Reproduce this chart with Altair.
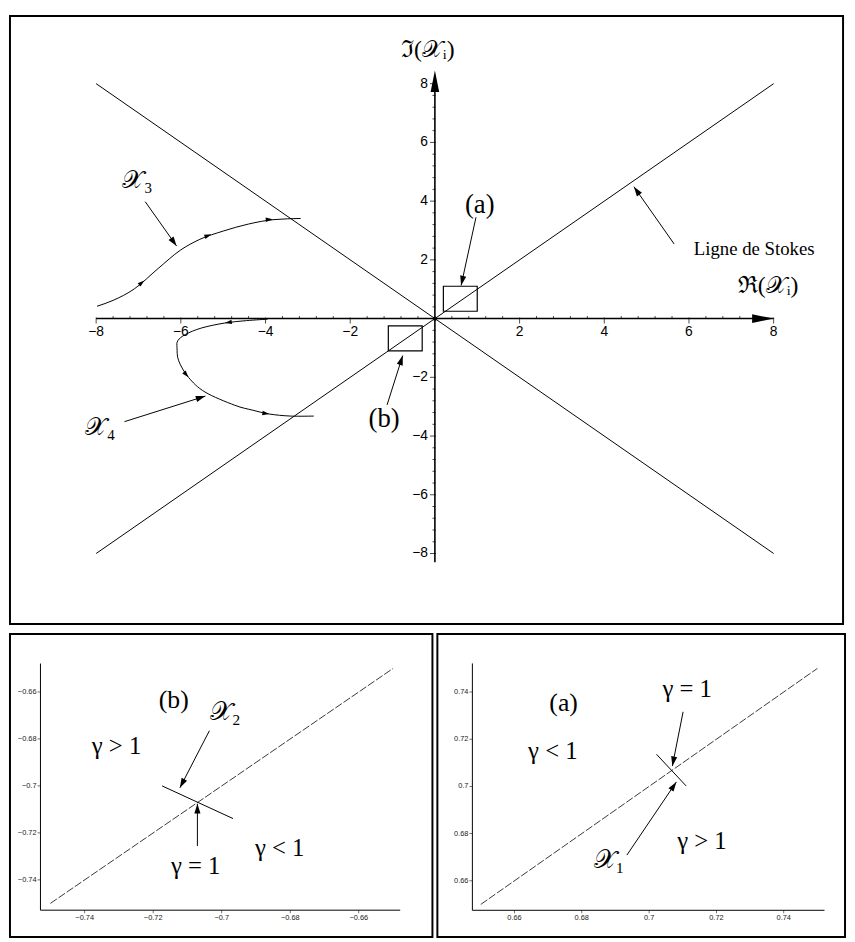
import math
import altair as alt
import pandas as pd

# ---------------- top panel values (complex plane) ----------------
stokes_from_re = [-8, -8]
stokes_from_im = [-8, 8]
stokes_to_re = [8, 8]
stokes_to_im = [8, -8]

major_vals = [-8, -6, -4, -2, 2, 4, 6, 8]
major_lbls = ["\u22128", "\u22126", "\u22124", "\u22122", "2", "4", "6", "8"]
minor_vals = [round(-8 + 0.4 * k, 1) for k in range(41) if k % 5 != 0]

x3_re = [-7.98, -7.6, -7.1, -6.54, -6.01, -5.55, -5.0, -4.4, -3.8, -3.17]
x3_im = [0.42, 0.62, 1.01, 1.70, 2.33, 2.70, 2.98, 3.22, 3.37, 3.41]
x3_arrow_re = [-6.86, -5.28, -3.83]
x3_arrow_im = [1.30, 2.87, 3.38]
x3_arrow_dir = [320, 339, 356]

x4_re = [-3.95, -4.45, -4.96, -5.51, -5.89, -6.07, -6.09, -6.05, -5.82, -5.43, -4.73, -4.3, -3.91, -3.41, -2.86]
x4_im = [-0.02, -0.07, -0.15, -0.32, -0.54, -0.75, -0.99, -1.44, -2.0, -2.50, -2.95, -3.12, -3.25, -3.32, -3.32]
x4_arrow_re = [-4.96, -5.82, -3.91]
x4_arrow_im = [-0.15, -2.0, -3.25]
x4_arrow_dir = [171, 50, 8]

box_x1 = [0.2, -1.1]
box_x2 = [1.0, -0.3]
box_y1 = [0.25, -1.1]
box_y2 = [1.1, -0.25]

axis_labels = ["\u2111(\U0001D4B3\u1D62)", "\u211C(\U0001D4B3\u1D62)"]
axis_label_re = [-0.17, 7.87]
axis_label_im = [9.16, 1.09]
curve_labels = ["\U0001D4B3\u2083", "\U0001D4B3\u2084"]
curve_label_re = [-7.03, -7.91]
curve_label_im = [4.72, -3.68]
box_labels = ["(a)", "(b)"]
box_label_re = [1.06, -1.20]
box_label_im = [3.88, -3.41]
stokes_label = ["Ligne de Stokes"]
stokes_label_re = [7.54]
stokes_label_im = [2.37]

top_arrow_from_re = [-6.84, -7.33, 0.97, -1.13, 5.65]
top_arrow_from_im = [3.98, -3.51, 3.45, -2.94, 2.54]
top_arrow_to_re = [-6.10, -5.42, 0.62, -0.76, 4.70]
top_arrow_to_im = [2.47, -2.64, 1.13, -1.26, 4.49]

# ---------------- bottom-left panel (b) ----------------
bl_diag = [-0.75, -0.65]
bl_ticks = [-0.74, -0.72, -0.70, -0.68, -0.66]
bl_tick_lbls = ["\u22120.74", "\u22120.72", "\u22120.7", "\u22120.68", "\u22120.66"]
bl_seg_re = [-0.7174, -0.6967]
bl_seg_im = [-0.7000, -0.7139]
bl_names = ["(b)", "\U0001D4B3\u2082"]
bl_name_re = [-0.7140, -0.6990]
bl_name_im = [-0.6634, -0.6685]
bl_gamma = ["\u03B3 > 1", "\u03B3 = 1", "\u03B3 < 1"]
bl_gamma_re = [-0.7307, -0.7076, -0.6831]
bl_gamma_im = [-0.6832, -0.7340, -0.7265]
bl_arrow_from_re = [-0.7036, -0.7071]
bl_arrow_from_im = [-0.6765, -0.7256]
bl_arrow_to_re = [-0.7122, -0.7071]
bl_arrow_to_im = [-0.7008, -0.7076]

# ---------------- bottom-right panel (a) ----------------
br_diag = [0.65, 0.75]
br_ticks = [0.66, 0.68, 0.70, 0.72, 0.74]
br_tick_lbls = ["0.66", "0.68", "0.7", "0.72", "0.74"]
br_seg_re = [0.7022, 0.7110]
br_seg_im = [0.7136, 0.7002]
br_names = ["(a)", "\U0001D4B3\u2081"]
br_name_re = [0.6746, 0.6881]
br_name_im = [0.7354, 0.6688]
br_gamma = ["\u03B3 = 1", "\u03B3 < 1", "\u03B3 > 1"]
br_gamma_re = [0.7113, 0.6714, 0.7157]
br_gamma_im = [0.7412, 0.7149, 0.6768]
br_arrow_from_re = [0.7101, 0.6934]
br_arrow_from_im = [0.7316, 0.6709]
br_arrow_to_re = [0.7069, 0.7081]
br_arrow_to_im = [0.7086, 0.7019]

# ---------------- layout ----------------
TOP_W, TOP_H = 844, 616
BL_W, BR_W, BOT_H = 428, 413, 307
TOP_XD = [-10.035, 9.639]
TOP_YD = [-10.403, 10.303]
BL_XD = [-0.7618, -0.6385]
BL_YD = [-0.7643, -0.6353]
BR_XD = [0.6371, 0.7582]
BR_YD = [0.6362, 0.7646]

SERIF = "Liberation Serif"
SANS = "Liberation Sans"
HEAD = "M0,0L-1,-0.32L-1,0.32Z"
BIGHEAD = "M0,0L-1,-0.2L-1,0.2Z"


def xy(xd, yd):
    return dict(
        x=alt.X("x:Q", scale=alt.Scale(domain=xd, nice=False, zero=False), axis=None),
        y=alt.Y("y:Q", scale=alt.Scale(domain=yd, nice=False, zero=False), axis=None),
    )


def rules(xd, yd, x1, y1, x2, y2, **kw):
    df = pd.DataFrame({"x": x1, "y": y1, "x2": x2, "y2": y2})
    return alt.Chart(df).mark_rule(color="black", **kw).encode(**xy(xd, yd), x2="x2:Q", y2="y2:Q")


def heads(xd, yd, xs, ys, angles, size, shape=HEAD):
    df = pd.DataFrame({"x": xs, "y": ys, "a": angles})
    return alt.Chart(df).mark_point(shape=shape, filled=True, color="black", opacity=1,
                                    size=size, strokeWidth=0).encode(
        **xy(xd, yd), angle=alt.Angle("a:Q", scale=None))


def arrow_angles(xd, yd, w, h, fx, fy, tx, ty):
    pxu = w / (xd[1] - xd[0])
    pyu = h / (yd[1] - yd[0])
    return [math.degrees(math.atan2(-(b2 - b1) * pyu, (a2 - a1) * pxu)) % 360
            for a1, b1, a2, b2 in zip(fx, fy, tx, ty)]


def texts(xd, yd, xs, ys, labels, color="black", **kw):
    df = pd.DataFrame({"x": xs, "y": ys, "t": labels})
    return alt.Chart(df).mark_text(color=color, **kw).encode(**xy(xd, yd), text="t:N")


# ---------------- top panel ----------------
T = (TOP_XD, TOP_YD)
top_layers = []
top_layers.append(rules(*T, stokes_from_re, stokes_from_im, stokes_to_re, stokes_to_im, strokeWidth=1))
# axes
top_layers.append(rules(*T, [-8, 0], [0, -8.3], [8, 0], [0, 8.2], strokeWidth=1.6))
top_layers.append(heads(*T, [8.0, 0.0], [0.0, 8.45], [0, 270], 1900, BIGHEAD))
zeros_maj = [0] * len(major_vals)
zeros_min = [0] * len(minor_vals)
top_layers.append(alt.Chart(pd.DataFrame({"x": major_vals, "y": zeros_maj})).mark_tick(
    orient="vertical", size=6, thickness=1, color="black", yOffset=2).encode(**xy(*T)))
top_layers.append(alt.Chart(pd.DataFrame({"x": minor_vals, "y": zeros_min})).mark_tick(
    orient="vertical", size=3, thickness=1, color="black", yOffset=-1).encode(**xy(*T)))
top_layers.append(alt.Chart(pd.DataFrame({"x": zeros_maj, "y": major_vals})).mark_tick(
    orient="horizontal", size=6, thickness=1, color="black", xOffset=-2).encode(**xy(*T)))
top_layers.append(alt.Chart(pd.DataFrame({"x": zeros_min, "y": minor_vals})).mark_tick(
    orient="horizontal", size=3, thickness=1, color="black", xOffset=-1).encode(**xy(*T)))
top_layers.append(texts(*T, major_vals, zeros_maj, major_lbls, font=SANS, fontSize=14,
                        align="center", baseline="middle", dy=14))
top_layers.append(texts(*T, zeros_maj, major_vals, major_lbls, font=SANS, fontSize=14,
                        align="right", baseline="middle", dx=-7))
# curves
top_layers.append(alt.Chart(pd.DataFrame({"x": x3_re, "y": x3_im, "i": list(range(len(x3_re)))}))
                  .mark_line(color="black", strokeWidth=1, interpolate="monotone")
                  .encode(**xy(*T), order="i:Q"))
top_layers.append(alt.Chart(pd.DataFrame({"x": x4_re, "y": x4_im, "i": list(range(len(x4_re)))}))
                  .mark_line(color="black", strokeWidth=1, interpolate="cardinal")
                  .encode(**xy(*T), order="i:Q"))
top_layers.append(heads(*T, x3_arrow_re, x3_arrow_im, x3_arrow_dir, 200))
top_layers.append(heads(*T, x4_arrow_re, x4_arrow_im, x4_arrow_dir, 200))
# boxes
top_layers.append(alt.Chart(pd.DataFrame({"x": box_x1, "y": box_y1, "x2": box_x2, "y2": box_y2}))
                  .mark_rect(fillOpacity=0, stroke="black", strokeWidth=1.2)
                  .encode(**xy(*T), x2="x2:Q", y2="y2:Q"))
top_layers.append(alt.Chart(pd.DataFrame({"x": [0], "y": [0]})).mark_circle(color="black", size=20, opacity=1)
                  .encode(**xy(*T)))
# annotation arrows
top_layers.append(rules(*T, top_arrow_from_re, top_arrow_from_im, top_arrow_to_re, top_arrow_to_im, strokeWidth=1))
top_layers.append(heads(*T, top_arrow_to_re, top_arrow_to_im,
                        arrow_angles(TOP_XD, TOP_YD, TOP_W, TOP_H, top_arrow_from_re, top_arrow_from_im,
                                     top_arrow_to_re, top_arrow_to_im), 380))
top_layers.append(texts(*T, axis_label_re, axis_label_im, axis_labels, font=SERIF, fontSize=24,
                        align="center", baseline="middle"))
top_layers.append(texts(*T, curve_label_re, curve_label_im, curve_labels, font=SERIF, fontSize=25,
                        align="center", baseline="middle"))
top_layers.append(texts(*T, box_label_re, box_label_im, box_labels, font=SERIF, fontSize=27,
                        align="center", baseline="middle"))
top_layers.append(texts(*T, stokes_label_re, stokes_label_im, stokes_label, font=SERIF, fontSize=19,
                        align="center", baseline="middle"))

top = alt.layer(*top_layers).properties(width=TOP_W, height=TOP_H)


# ---------------- bottom panels ----------------
def zoom_panel(xd, yd, w, diag, ticks, tick_lbls, seg_re, seg_im, names, nre, nim,
               gam, gre, gim, afx, afy, atx, aty, axis_hi, corner):
    L = []
    L.append(rules(xd, yd, [corner, corner], [corner, corner], [axis_hi, corner], [corner, axis_hi],
                   strokeWidth=1))
    base_x = [corner] * len(ticks)
    L.append(alt.Chart(pd.DataFrame({"x": ticks, "y": base_x})).mark_tick(
        orient="vertical", size=3, thickness=0.8, color="black", yOffset=1.5).encode(**xy(xd, yd)))
    L.append(alt.Chart(pd.DataFrame({"x": base_x, "y": ticks})).mark_tick(
        orient="horizontal", size=3, thickness=0.8, color="black", xOffset=-1.5).encode(**xy(xd, yd)))
    L.append(texts(xd, yd, ticks, base_x, tick_lbls, color="#222", font=SANS, fontSize=7.5,
                   align="center", baseline="middle", dy=8))
    L.append(texts(xd, yd, base_x, ticks, tick_lbls, color="#222", font=SANS, fontSize=7.5,
                   align="right", baseline="middle", dx=-4))
    L.append(alt.Chart(pd.DataFrame({"x": diag, "y": diag})).mark_line(
        color="#222", strokeWidth=0.9, strokeDash=[8, 2]).encode(**xy(xd, yd)))
    L.append(alt.Chart(pd.DataFrame({"x": seg_re, "y": seg_im})).mark_line(
        color="black", strokeWidth=1).encode(**xy(xd, yd)))
    L.append(rules(xd, yd, afx, afy, atx, aty, strokeWidth=1))
    L.append(heads(xd, yd, atx, aty, arrow_angles(xd, yd, w, BOT_H, afx, afy, atx, aty), 380))
    L.append(texts(xd, yd, nre, nim, names, font=SERIF, fontSize=26, align="center", baseline="middle"))
    L.append(texts(xd, yd, gre, gim, gam, font=SERIF, fontSize=25, align="center", baseline="middle"))
    return alt.layer(*L).properties(width=w, height=BOT_H)


bl = zoom_panel(BL_XD, BL_YD, BL_W, bl_diag, bl_ticks, bl_tick_lbls, bl_seg_re, bl_seg_im,
                bl_names, bl_name_re, bl_name_im, bl_gamma, bl_gamma_re, bl_gamma_im,
                bl_arrow_from_re, bl_arrow_from_im, bl_arrow_to_re, bl_arrow_to_im, -0.6479, -0.7529)
br = zoom_panel(BR_XD, BR_YD, BR_W, br_diag, br_ticks, br_tick_lbls, br_seg_re, br_seg_im,
                br_names, br_name_re, br_name_im, br_gamma, br_gamma_re, br_gamma_im,
                br_arrow_from_re, br_arrow_from_im, br_arrow_to_re, br_arrow_to_im, 0.7521, 0.6475)

chart = alt.vconcat(top, alt.hconcat(bl, br, spacing=3), spacing=8).properties(
    padding=1, background="white"
).configure_view(stroke="black", strokeWidth=2)

chart.save("out.html", embed_options={"renderer": "svg", "actions": False})
